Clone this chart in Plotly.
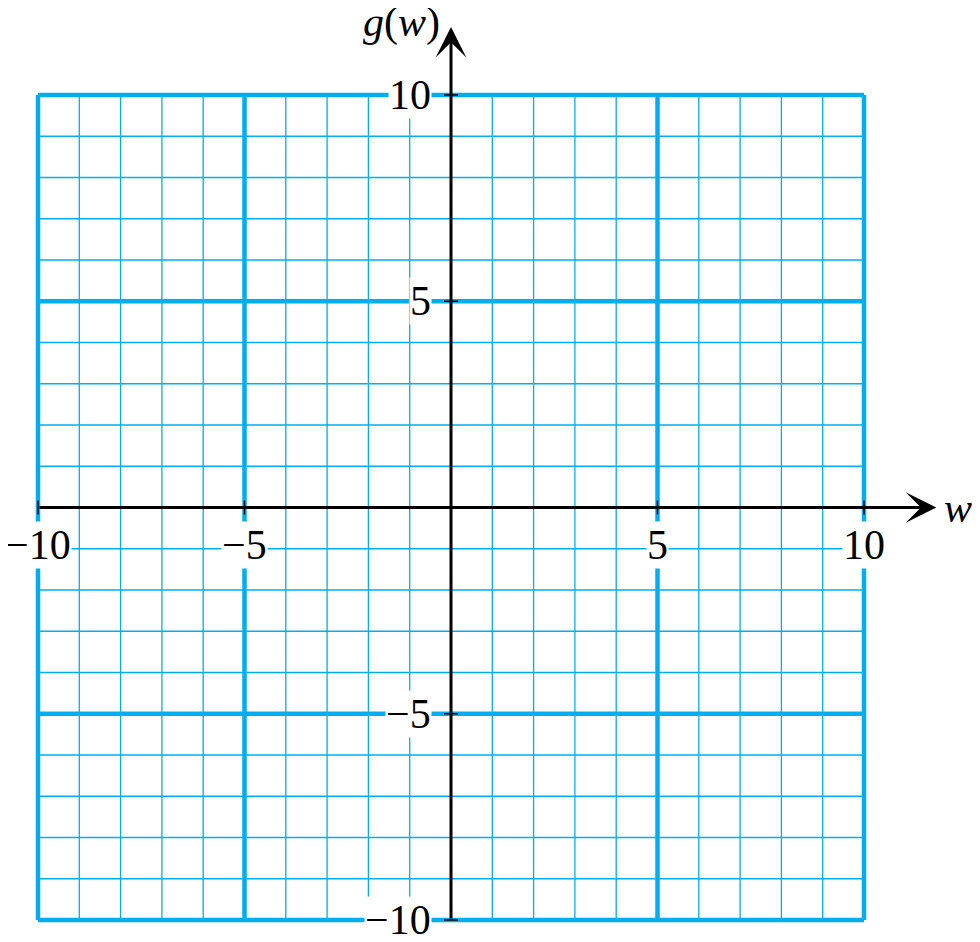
import plotly.graph_objects as go

# ---- data ----
grid_min, grid_max = -10, 10
grid_values = list(range(-10, 11))          # every unit grid line
major_values = [-10, -5, 5, 10]             # heavy grid lines
x_tick_vals = [-10, -5, 5, 10]
x_tick_text = ["\u221210", "\u22125", "5", "10"]
y_tick_vals = [10, 5, -5, -10]
y_tick_text = ["10", "5", "\u22125", "\u221210"]
x_axis_end = 11.75
y_axis_end = 11.65
x_label = "<i>w</i>"
y_label = "<i>g</i>(<i>w</i>)"

GRID = "#00AEEF"
FONT = "Liberation Serif"
FS = 42

fig = go.Figure()

def seg_lines(vals, vertical):
    xs, ys = [], []
    for v in vals:
        if vertical:
            xs += [v, v, None]
            ys += [grid_min, grid_max, None]
        else:
            xs += [grid_min, grid_max, None]
            ys += [v, v, None]
    return xs, ys

minor_vals = [v for v in grid_values if v not in major_values]
for vertical in (True, False):
    xs, ys = seg_lines(minor_vals, vertical)
    fig.add_trace(go.Scatter(x=xs, y=ys, mode="lines",
                             line=dict(color=GRID, width=1.3),
                             hoverinfo="skip", showlegend=False))
for vertical in (True, False):
    xs, ys = seg_lines(major_values, vertical)
    fig.add_trace(go.Scatter(x=xs, y=ys, mode="lines",
                             line=dict(color=GRID, width=4.5),
                             hoverinfo="skip", showlegend=False))

# tick labels with white boxes
for v, t in zip(x_tick_vals, x_tick_text):
    fig.add_annotation(x=v, y=-0.92, text=t, showarrow=False,
                       xanchor="center", yanchor="middle",
                       bgcolor="white", borderpad=0,
                       font=dict(family=FONT, size=FS, color="black"))
for v, t in zip(y_tick_vals, y_tick_text):
    fig.add_annotation(x=-0.45, y=v, text=t, showarrow=False,
                       xanchor="right", yanchor="middle",
                       bgcolor="white", borderpad=0,
                       font=dict(family=FONT, size=FS, color="black"))

# axes with arrows
fig.add_annotation(x=x_axis_end, y=0, ax=grid_min, ay=0,
                   xref="x", yref="y", axref="x", ayref="y",
                   text="", showarrow=True, arrowhead=3, arrowsize=1.7,
                   arrowwidth=3, arrowcolor="black")
fig.add_annotation(x=0, y=y_axis_end, ax=0, ay=grid_min,
                   xref="x", yref="y", axref="x", ayref="y",
                   text="", showarrow=True, arrowhead=3, arrowsize=1.7,
                   arrowwidth=3, arrowcolor="black")

# tick marks on axes
fig.add_trace(go.Scatter(x=x_tick_vals, y=[0] * len(x_tick_vals), mode="markers",
                         marker=dict(symbol="line-ns", size=10,
                                     line=dict(color="black", width=1.5)),
                         hoverinfo="skip", showlegend=False))
fig.add_trace(go.Scatter(x=[0] * len(y_tick_vals), y=y_tick_vals, mode="markers",
                         marker=dict(symbol="line-ew", size=10,
                                     line=dict(color="black", width=1.5)),
                         hoverinfo="skip", showlegend=False))

# axis labels
fig.add_annotation(x=12.28, y=0, text=x_label, showarrow=False,
                   xanchor="center", yanchor="middle",
                   font=dict(family=FONT, size=FS, color="black"))
fig.add_annotation(x=-1.2, y=11.75, text=y_label, showarrow=False,
                   xanchor="center", yanchor="middle",
                   font=dict(family=FONT, size=FS, color="black"))

# page has an 8px body margin: figure occupies image pixels 8..972 x 8..934
PX_X = 41.3
PX_Y = 41.25
fig.update_layout(
    width=964, height=926,
    margin=dict(l=0, r=0, t=0, b=0),
    paper_bgcolor="white", plot_bgcolor="white",
    xaxis=dict(range=[-10 - 30 / PX_X, -10 + 934 / PX_X], visible=False,
               fixedrange=True),
    yaxis=dict(range=[-10 - 14 / PX_Y, 10 + 87 / PX_Y], visible=False,
               fixedrange=True),
)

fig.write_html("out.html")
